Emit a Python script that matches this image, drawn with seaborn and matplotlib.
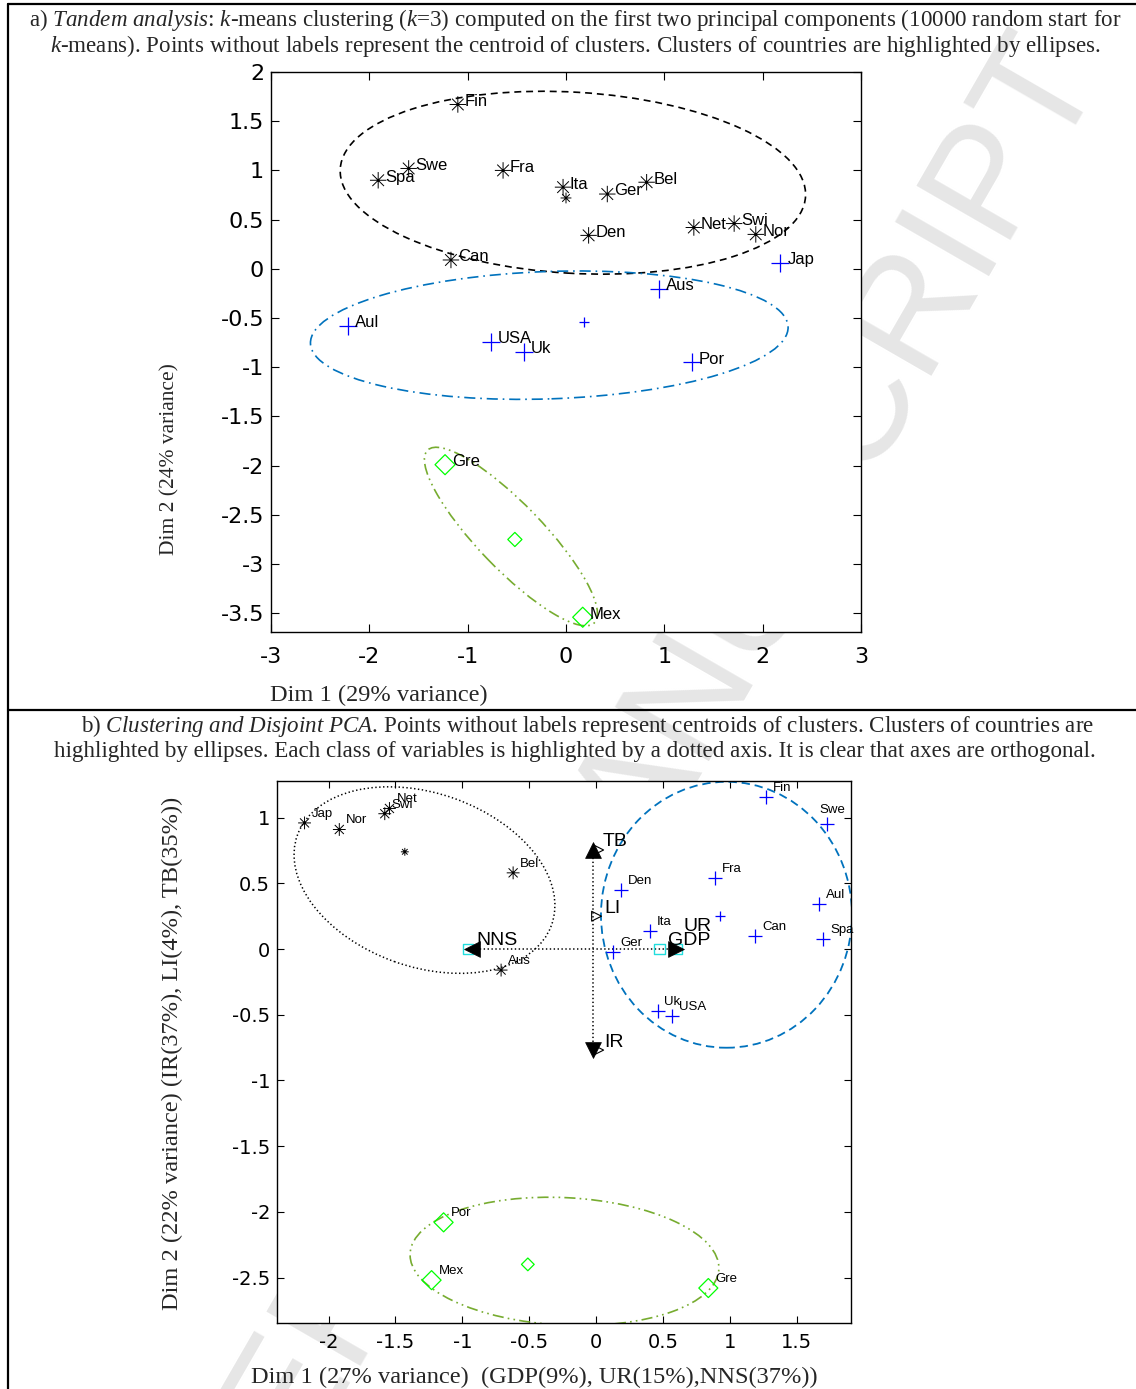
import numpy as np
import pandas as pd
import matplotlib
matplotlib.use("Agg")
import matplotlib.pyplot as plt
import seaborn as sns
from matplotlib.path import Path
from matplotlib.patches import Ellipse
from matplotlib.lines import Line2D

sns.set_style("ticks")
plt.rcParams['font.family'] = ['Liberation Sans', 'DejaVu Sans']
plt.rcParams['axes.unicode_minus'] = False
plt.rcParams['lines.scale_dashes'] = False
plt.rcParams['mathtext.fontset'] = 'custom'
plt.rcParams['mathtext.rm'] = 'Liberation Serif'
plt.rcParams['mathtext.it'] = 'Liberation Serif:italic'

# ================= Panel a data (Tandem analysis) =================
a_black_labels = ["Fin", "Swe", "Spa", "Fra", "Ita", "Ger", "Bel", "Den", "Net", "Swi", "Nor", "Can"]
a_black_x = [-1.10, -1.60, -1.91, -0.64, -0.03, 0.42, 0.82, 0.23, 1.30, 1.71, 1.93, -1.17]
a_black_y = [1.67, 1.02, 0.90, 1.00, 0.83, 0.76, 0.88, 0.34, 0.42, 0.46, 0.35, 0.09]
a_blue_labels = ["Jap", "Aus", "Aul", "USA", "Uk", "Por"]
a_blue_x = [2.18, 0.95, -2.22, -0.76, -0.43, 1.28]
a_blue_y = [0.06, -0.20, -0.58, -0.74, -0.84, -0.95]
a_green_labels = ["Gre", "Mex"]
a_green_x = [-1.23, 0.17]
a_green_y = [-1.99, -3.54]
a_centroid_x = [0.00, 0.18, -0.52]
a_centroid_y = [0.72, -0.54, -2.75]
# ellipses: centre x, centre y, semi-axis 1, semi-axis 2, angle (deg)
a_ell_cx = [0.07, -0.17, -0.56]
a_ell_cy = [0.875, -0.674, -2.72]
a_ell_a = [2.37, 2.43, 1.22]
a_ell_b = [0.92, 0.647, 0.33]
a_ell_ang = [-3.4, 2.0, -46.0]
a_xticks = [-3, -2, -1, 0, 1, 2, 3]
a_xticklabels = ["-3", "-2", "-1", "0", "1", "2", "3"]
a_yticks = [2, 1.5, 1, 0.5, 0, -0.5, -1, -1.5, -2, -2.5, -3, -3.5]
a_yticklabels = ["2", "1.5", "1", "0.5", "0", "-0.5", "-1", "-1.5", "-2", "-2.5", "-3", "-3.5"]

# ================= Panel b data (Clustering and Disjoint PCA) =================
b_black_labels = ["Jap", "Nor", "Swi", "Net", "Bel", "Aus"]
b_black_x = [-2.18, -1.92, -1.58, -1.545, -0.62, -0.71]
b_black_y = [0.96, 0.91, 1.03, 1.07, 0.58, -0.16]
b_blue_labels = ["Fin", "Swe", "Fra", "Den", "Aul", "Ita", "Can", "Spa", "Ger", "Uk", "USA"]
b_blue_x = [1.27, 1.73, 0.89, 0.19, 1.67, 0.40, 1.19, 1.70, 0.13, 0.46, 0.57]
b_blue_y = [1.16, 0.95, 0.54, 0.45, 0.34, 0.14, 0.10, 0.08, -0.02, -0.47, -0.51]
b_green_labels = ["Por", "Mex", "Gre"]
b_green_x = [-1.14, -1.23, 0.84]
b_green_y = [-2.08, -2.52, -2.58]
b_centroid_x = [-1.43, 0.93, -0.51]
b_centroid_y = [0.74, 0.25, -2.40]
b_ell_cx = [-1.283, 0.976, -0.236]
b_ell_cy = [0.525, 0.261, -2.377]
b_ell_a = [1.01, 0.939, 1.156]
b_ell_b = [0.66, 1.012, 0.485]
b_ell_ang = [-20.0, 0.0, -3.0]
# variables (disjoint axes)
b_arrow_x = [-0.93, 0.60, -0.024, -0.024]
b_arrow_y = [0.0, 0.0, 0.754, -0.769]
b_arrow_marker = ["<", ">", "^", "v"]
b_open_x = [0.02, 0.004, 0.02]
b_open_y = [0.754, 0.25, -0.769]
b_square_x = [-0.957, 0.475, 0.605]
b_square_y = [0.0, 0.0, 0.0]
b_var_labels = ["NNS", "UR", "GDP", "TB", "LI", "IR"]
b_var_lx = [-0.896, 0.654, 0.535, 0.049, 0.064, 0.064]
b_var_ly = [0.068, 0.175, 0.063, 0.817, 0.312, -0.715]
b_hline_x = [-0.93, 0.58]
b_hline_y = [0.0, 0.0]
b_vline_x = [-0.024, -0.024]
b_vline_y = [0.754, -0.769]
b_xticks = [-2, -1.5, -1, -0.5, 0, 0.5, 1, 1.5]
b_xticklabels = ["-2", "-1.5", "-1", "-0.5", "0", "0.5", "1", "1.5"]
b_yticks = [1, 0.5, 0, -0.5, -1, -1.5, -2, -2.5]
b_yticklabels = ["1", "0.5", "0", "-0.5", "-1", "-1.5", "-2", "-2.5"]

# ================= styles =================
BLUE_M = "#0000ff"
BLUE_L = "#0072BD"
GREEN_M = "#00ff00"
GREEN_L = "#77AC30"
CYAN = "#22dddd"
TICKFONT = 'Liberation Sans Narrow'
SERIF = ['Liberation Serif', 'DejaVu Serif']

ast = Path([(-0.5, 0), (0.5, 0), (0, -0.5), (0, 0.5),
            (-0.354, -0.354), (0.354, 0.354), (-0.354, 0.354), (0.354, -0.354)],
           [Path.MOVETO, Path.LINETO] * 4)

W, H = 1136, 1389
fig = plt.figure(figsize=(W / 100, H / 100), dpi=100)


def px_rect(l, t, r, b):
    return [l / W, 1 - b / H, (r - l) / W, (b - t) / H]


def style_axes(ax, xt, xtl, yt, ytl, xlim, ylim, fs, ticklen, xpad, ypad):
    ax.set_facecolor("white")
    ax.set_xlim(*xlim)
    ax.set_ylim(*ylim)
    ax.set_xticks(xt)
    ax.set_xticklabels(xtl)
    ax.set_yticks(yt)
    ax.set_yticklabels(ytl)
    ax.tick_params(direction="in", top=True, right=True, length=ticklen, width=0.8,
                   labelsize=fs, labelfontfamily=TICKFONT, colors="black")
    ax.tick_params(axis="x", pad=xpad)
    ax.tick_params(axis="y", pad=ypad)
    for sp in ax.spines.values():
        sp.set_visible(True)
        sp.set_linewidth(1.0)
        sp.set_color("black")
    ax.set_xlabel("")
    ax.set_ylabel("")


def scat(ax, xs, ys, marker, s, color, kind, lw=0.9):
    if kind == "line":        # '+' type markers
        sns.scatterplot(x=xs, y=ys, ax=ax, marker=marker, s=s, color=color,
                        linewidth=lw, legend=False, zorder=4)
    elif kind == "open":
        sns.scatterplot(x=xs, y=ys, ax=ax, marker=marker, s=s, color=color,
                        facecolor="none", edgecolor=color, linewidth=lw,
                        legend=False, zorder=4)
    else:                     # filled
        sns.scatterplot(x=xs, y=ys, ax=ax, marker=marker, s=s, color=color,
                        edgecolor=color, linewidth=lw, legend=False, zorder=5)


def labels(ax, names, xs, ys, fs, off, special=None):
    for n, x, y in zip(names, xs, ys):
        o = off
        if special and n in special:
            o = special[n]
        ax.annotate(n, (x, y), xytext=o, textcoords="offset points",
                    ha="left", va="center", fontsize=fs, color="black", zorder=6)


def ellipses(ax, cx, cy, a, b, ang, styles):
    for x, y, aa, bb, an, (col, ls, lw) in zip(cx, cy, a, b, ang, styles):
        e = Ellipse((x, y), 2 * aa, 2 * bb, angle=an, fill=False, edgecolor=col,
                    linestyle=ls, linewidth=lw, zorder=2)
        ax.add_patch(e)


# watermark (behind the plot images)
fig.text(585 / W, 1 - 895 / H, "ACCEPTED MANUSCRIPT", ha="center", va="center",
         rotation=60, rotation_mode="anchor", fontsize=113, color="#e6e6e6",
         family=["Liberation Sans", "DejaVu Sans"], zorder=-1)

# ---------------- Panel a ----------------
axa = fig.add_axes(px_rect(271, 72, 861, 632))
style_axes(axa, a_xticks, a_xticklabels, a_yticks, a_yticklabels, (-3, 3), (-3.69, 2.0),
           16, 6, 11, 5)
ellipses(axa, a_ell_cx, a_ell_cy, a_ell_a, a_ell_b, a_ell_ang,
         [("black", (0, (5, 3.5)), 1.2),
          (BLUE_L, (0, (8, 3.5, 1.2, 3.5)), 1.2),
          (GREEN_L, (0, (8, 3, 1.2, 3, 1.2, 3)), 1.2)])
scat(axa, a_black_x, a_black_y, ast, 140, "black", "open", lw=0.7)
scat(axa, a_blue_x, a_blue_y, "+", 169, BLUE_M, "line")
scat(axa, a_green_x, a_green_y, "D", 104, GREEN_M, "open")
scat(axa, [a_centroid_x[0]], [a_centroid_y[0]], ast, 60, "black", "open", lw=0.7)
scat(axa, [a_centroid_x[1]], [a_centroid_y[1]], "+", 56, BLUE_M, "line")
scat(axa, [a_centroid_x[2]], [a_centroid_y[2]], "D", 52, GREEN_M, "open")
labels(axa, a_black_labels, a_black_x, a_black_y, 12, (5, 2.2))
labels(axa, a_blue_labels, a_blue_x, a_blue_y, 12, (5, 2.2))
labels(axa, a_green_labels, a_green_x, a_green_y, 12, (5, 2.2))

# ---------------- Panel b ----------------
axb = fig.add_axes(px_rect(277, 781, 851, 1323))
style_axes(axb, b_xticks, b_xticklabels, b_yticks, b_yticklabels, (-2.386, 1.907), (-2.846, 1.279),
           14, 5, 7, 5)
ellipses(axb, b_ell_cx, b_ell_cy, b_ell_a, b_ell_b, b_ell_ang,
         [("black", (0, (1.0, 1.8)), 1.1),
          (BLUE_L, (0, (6, 3.5)), 1.3),
          (GREEN_L, (0, (8, 3, 1.2, 3, 1.2, 3)), 1.2)])
sns.lineplot(x=b_hline_x, y=b_hline_y, ax=axb, estimator=None, sort=False,
             color="black", linestyle=(0, (1.0, 1.8)), linewidth=1.1, zorder=3)
sns.lineplot(x=b_vline_x, y=b_vline_y, ax=axb, estimator=None, sort=False,
             color="black", linestyle=(0, (1.0, 1.8)), linewidth=1.1, zorder=3)
scat(axb, b_black_x, b_black_y, ast, 85, "black", "open", lw=0.7)
scat(axb, b_blue_x, b_blue_y, "+", 100, BLUE_M, "line")
scat(axb, b_green_x, b_green_y, "D", 94, GREEN_M, "open")
scat(axb, [b_centroid_x[0]], [b_centroid_y[0]], ast, 32, "black", "open", lw=0.7)
scat(axb, [b_centroid_x[1]], [b_centroid_y[1]], "+", 45, BLUE_M, "line")
scat(axb, [b_centroid_x[2]], [b_centroid_y[2]], "D", 42, GREEN_M, "open")
scat(axb, b_square_x, b_square_y, "s", 55, CYAN, "open", lw=1.0)
scat(axb, b_open_x, b_open_y, ">", 50, "black", "open", lw=0.8)
for x, y, m in zip(b_arrow_x, b_arrow_y, b_arrow_marker):
    scat(axb, [x], [y], m, 130, "black", "filled", lw=0.5)
labels(axb, b_black_labels, b_black_x, b_black_y, 9.5, (5, 6.5))
labels(axb, b_blue_labels, b_blue_x, b_blue_y, 9.5, (5, 6.5), special={"Swe": (-6, 10)})
labels(axb, b_green_labels, b_green_x, b_green_y, 9.5, (5, 6.5))
for n, x, y in zip(b_var_labels, b_var_lx, b_var_ly):
    axb.text(x, y, n, ha="left", va="center", fontsize=14, color="black", zorder=6)

# ---------------- captions, axis labels, frame ----------------
CAP = 16.6
fig.text(575 / W, 1 - 20 / H,
         r"a) $\mathit{Tandem\ analysis}$: $\mathit{k}$-means clustering ($\mathit{k}$=3) computed on the first two principal components (10000 random start for",
         ha="center", va="center", fontsize=CAP, family=SERIF)
fig.text(575 / W, 1 - 46 / H,
         r"$\mathit{k}$-means). Points without labels represent the centroid of clusters. Clusters of countries are highlighted by ellipses.",
         ha="center", va="center", fontsize=CAP, family=SERIF)
fig.text(588 / W, 1 - 726 / H,
         r"b) $\mathit{Clustering\ and\ Disjoint\ PCA}$. Points without labels represent centroids of clusters. Clusters of countries are",
         ha="center", va="center", fontsize=CAP, family=SERIF)
fig.text(575 / W, 1 - 752 / H,
         "highlighted by ellipses. Each class of variables is highlighted by a dotted axis. It is clear that axes are orthogonal.",
         ha="center", va="center", fontsize=CAP, family=SERIF)

fig.text(270 / W, 1 - 695 / H, "Dim 1 (29% variance)", ha="left", va="center",
         fontsize=17.6, family=SERIF)
fig.text(170 / W, 1 - 459 / H, "Dim 2 (24% variance)", ha="center", va="center",
         rotation=90, fontsize=15.5, family=SERIF)
fig.text(251 / W, 1 - 1377 / H, "Dim 1 (27% variance)  (GDP(9%), UR(15%),NNS(37%))",
         ha="left", va="center", fontsize=17.6, family=SERIF)
fig.text(172 / W, 1 - 1053 / H, "Dim 2 (22% variance) (IR(37%), LI(4%), TB(35%))",
         ha="center", va="center", rotation=90, fontsize=17.6, family=SERIF)

for (x0, y0, x1, y1) in [(8, 4, W, 4), (8, 4, 8, H), (8, 710, W, 710)]:
    fig.add_artist(Line2D([x0 / W, x1 / W], [1 - y0 / H, 1 - y1 / H],
                          transform=fig.transFigure, color="black", linewidth=1.6))

fig.savefig("out.png", dpi=100)
